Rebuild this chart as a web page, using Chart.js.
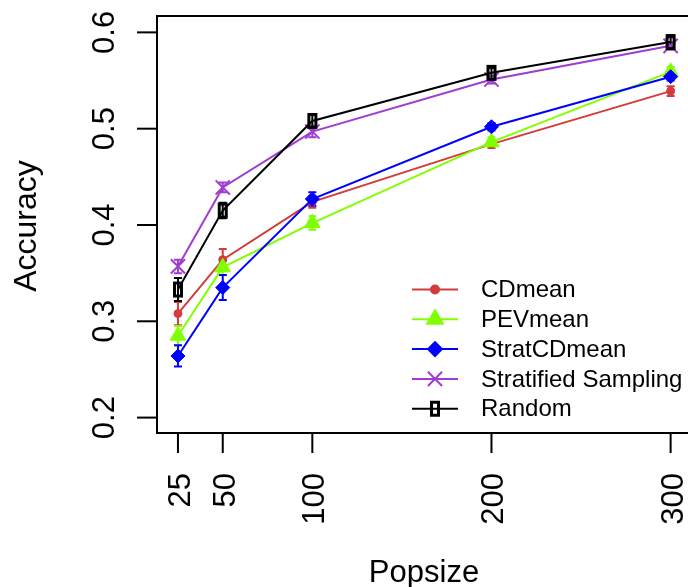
<!DOCTYPE html>
<html>
<head>
<meta charset="utf-8">
<script src="https://cdn.jsdelivr.net/npm/chart.js@4/dist/chart.umd.min.js"></script>
<style>
  html, body { margin: 0; padding: 0; background: #fff; }
  #wrap { width: 688px; height: 587px; }
</style>
</head>
<body>
<div id="wrap"><canvas id="c" width="688" height="587"></canvas></div>
<script>
// dados
const popsize = [25, 50, 100, 200, 300];
const xTicks = [25, 50, 100, 200, 300];
const yTicks = [0.2, 0.3, 0.4, 0.5, 0.6];

const cdmean      = [0.308, 0.364, 0.424, 0.484, 0.539];
const pevmean     = [0.285, 0.356, 0.402, 0.486, 0.559];
const stratcdmean = [0.264, 0.335, 0.427, 0.502, 0.554];
const stratified  = [0.357, 0.439, 0.497, 0.551, 0.586];
const random      = [0.333, 0.415, 0.508, 0.558, 0.590];

// meia largura das barras de erro
const cdmeanErr      = [0.012, 0.011, 0.006, 0.004, 0.005];
const pevmeanErr     = [0.010, 0.008, 0.007, 0.005, 0.005];
const stratcdmeanErr = [0.011, 0.013, 0.007, 0.004, 0.004];
const stratifiedErr  = [0.007, 0.005, 0.006, 0.004, 0.004];
const randomErr      = [0.012, 0.008, 0.007, 0.005, 0.005];

const FONT = '"Liberation Sans", Arial, Helvetica, sans-serif';

// símbolo "0" do Random (retângulo estreito)
const randomMark = document.createElement('canvas');
randomMark.width = 12; randomMark.height = 18;
(function () {
  const g = randomMark.getContext('2d');
  g.strokeStyle = '#000';
  g.lineWidth = 3;
  g.strokeRect(2.5, 2.5, 7, 13);
})();

function serie(label, values, errs, color, style, radius, order) {
  return {
    label: label,
    data: popsize.map((x, i) => ({ x: x, y: values[i] })),
    errs: errs,
    borderColor: color,
    backgroundColor: color,
    pointBackgroundColor: color,
    pointBorderColor: color,
    pointStyle: style,
    pointRadius: radius,
    pointBorderWidth: style === 'crossRot' ? 2 : 1,
    borderWidth: 2,
    tension: 0,
    fill: false,
    order: order
  };
}

const datasets = [
  serie('CDmean', cdmean, cdmeanErr, '#d23c3a', 'circle', 4, 4),
  serie('PEVmean', pevmean, pevmeanErr, '#80ff00', 'triangle', 9, 3),
  serie('StratCDmean', stratcdmean, stratcdmeanErr, '#0000ff', 'rectRot', 7, 2),
  serie('Stratified Sampling', stratified, stratifiedErr, '#a03cd2', 'crossRot', 10, 1),
  serie('Random', random, randomErr, '#000000', randomMark, 9, 0)
];

function drawMark(ctx, ds, x, y) {
  if (Chart.helpers && Chart.helpers.drawPoint) {
    Chart.helpers.drawPoint(ctx, {
      pointStyle: ds.pointStyle, radius: ds.pointRadius, rotation: 0,
      borderWidth: ds.pointBorderWidth
    }, x, y);
  } else {
    ctx.beginPath(); ctx.arc(x, y, ds.pointRadius, 0, Math.PI * 2); ctx.fill();
  }
}

const rPlot = {
  id: 'rPlot',
  beforeDatasetsDraw(chart) {
    const ctx = chart.ctx;
    const xs = chart.scales.x, ys = chart.scales.y;
    ctx.save();
    ctx.lineWidth = 2;
    chart.data.datasets.forEach(ds => {
      ctx.strokeStyle = ds.borderColor;
      ds.data.forEach((p, i) => {
        const px = xs.getPixelForValue(p.x);
        const y1 = ys.getPixelForValue(p.y - ds.errs[i]);
        const y2 = ys.getPixelForValue(p.y + ds.errs[i]);
        ctx.beginPath();
        ctx.moveTo(px, y1); ctx.lineTo(px, y2);
        ctx.moveTo(px - 4, y1); ctx.lineTo(px + 4, y1);
        ctx.moveTo(px - 4, y2); ctx.lineTo(px + 4, y2);
        ctx.stroke();
      });
    });
    ctx.restore();
  },
  afterDraw(chart) {
    const ctx = chart.ctx;
    const a = chart.chartArea;
    const xs = chart.scales.x, ys = chart.scales.y;
    ctx.save();
    ctx.strokeStyle = '#000';
    ctx.lineWidth = 2;
    // caixa (o lado direito fica fora da imagem)
    ctx.beginPath();
    ctx.moveTo(a.right + 5, a.top); ctx.lineTo(a.left, a.top);
    ctx.lineTo(a.left, a.bottom); ctx.lineTo(a.right + 5, a.bottom);
    ctx.stroke();

    ctx.fillStyle = '#000';
    ctx.font = '31px ' + FONT;
    // eixo x
    xTicks.forEach(v => {
      const px = xs.getPixelForValue(v);
      ctx.beginPath(); ctx.moveTo(px, a.bottom); ctx.lineTo(px, a.bottom + 20); ctx.stroke();
      ctx.save();
      ctx.translate(px + 12, 473);
      ctx.rotate(-Math.PI / 2);
      ctx.textAlign = 'right'; ctx.textBaseline = 'alphabetic';
      ctx.fillText(String(v), 0, 0);
      ctx.restore();
    });
    // eixo y
    yTicks.forEach(v => {
      const py = ys.getPixelForValue(v);
      ctx.beginPath(); ctx.moveTo(a.left, py); ctx.lineTo(a.left - 20, py); ctx.stroke();
      ctx.save();
      ctx.translate(113.5, py);
      ctx.rotate(-Math.PI / 2);
      ctx.textAlign = 'center'; ctx.textBaseline = 'alphabetic';
      ctx.fillText(v.toFixed(1), 0, 0);
      ctx.restore();
    });
    // títulos
    ctx.font = '31px ' + FONT;
    ctx.textAlign = 'center'; ctx.textBaseline = 'alphabetic';
    ctx.fillText('Popsize', 424, 582);
    ctx.font = '32px ' + FONT;
    ctx.save();
    ctx.translate(36, 226);
    ctx.rotate(-Math.PI / 2);
    ctx.fillText('Accuracy', 0, 0);
    ctx.restore();

    // legenda
    ctx.font = '24px ' + FONT;
    ctx.textAlign = 'left'; ctx.textBaseline = 'middle';
    chart.data.datasets.forEach((ds, i) => {
      const ly = 289.5 + i * 29.8;
      ctx.strokeStyle = ds.borderColor;
      ctx.fillStyle = ds.borderColor;
      ctx.lineWidth = 2;
      ctx.beginPath(); ctx.moveTo(412, ly); ctx.lineTo(458, ly); ctx.stroke();
      drawMark(ctx, ds, 435, ly);
      ctx.fillStyle = '#000';
      ctx.fillText(ds.label, 481, ly + 1);
    });
    ctx.restore();
  }
};

new Chart(document.getElementById('c'), {
  type: 'line',
  data: { datasets: datasets },
  options: {
    responsive: false,
    animation: false,
    devicePixelRatio: 1,
    layout: { autoPadding: false, padding: { left: 157, top: 16, right: 0, bottom: 154 } },
    plugins: { legend: { display: false }, tooltip: { enabled: false } },
    scales: {
      x: { type: 'linear', min: 13.3, max: 309.7, display: false },
      y: { type: 'linear', min: 0.184, max: 0.617, display: false }
    }
  },
  plugins: [rPlot]
});
</script>
</body>
</html>
